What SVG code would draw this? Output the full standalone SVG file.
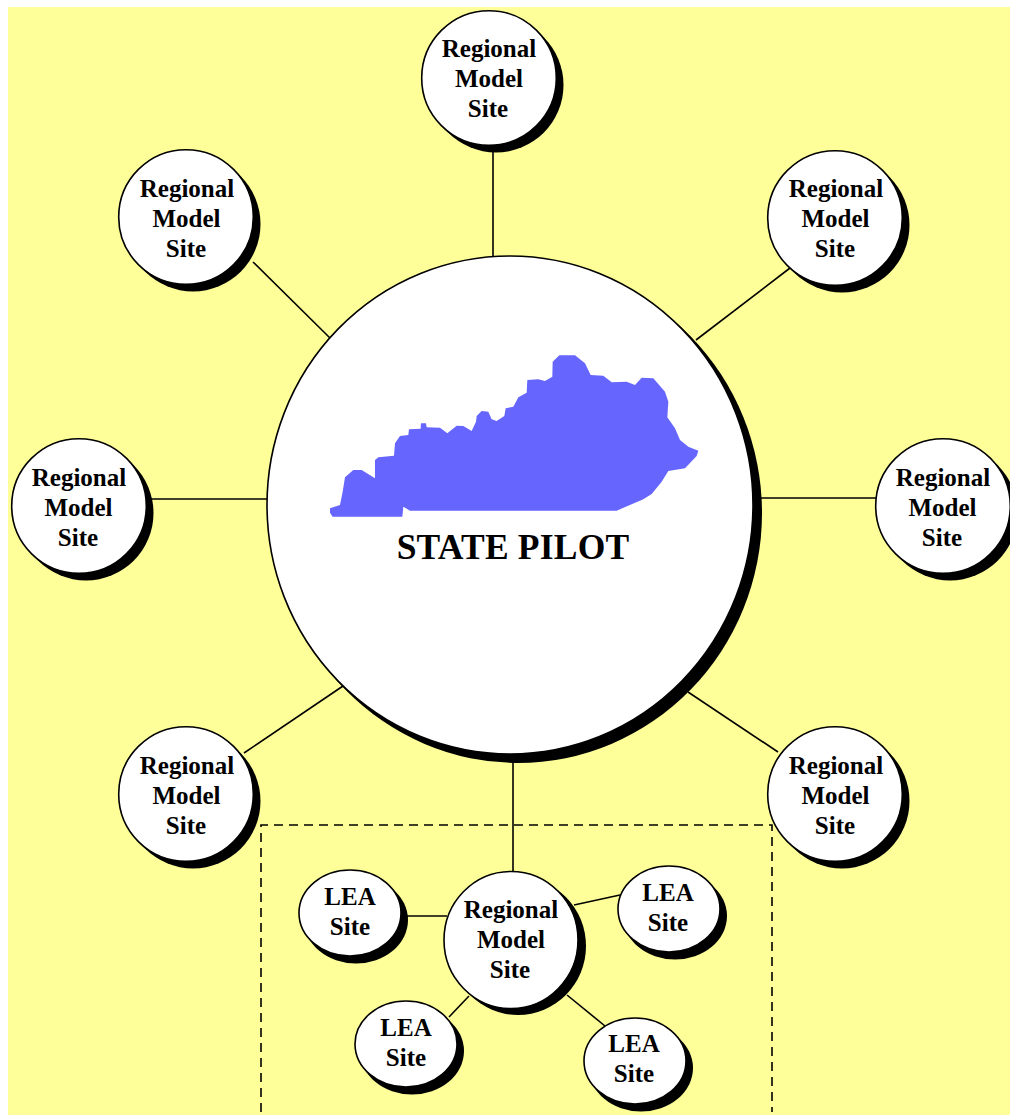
<svg xmlns="http://www.w3.org/2000/svg" width="1010" height="1115" viewBox="0 0 1010 1115">
<style>
.sh{fill:#000}
.fc{fill:#fff;stroke:#000;stroke-width:1.6}
.c{stroke:#000;stroke-width:1.6;fill:none}
.t{font-family:"Liberation Serif","Times New Roman",serif;font-weight:bold;font-size:25px;text-anchor:middle;fill:#000}
</style>
<rect x="0" y="0" width="1010" height="1115" fill="#fff"/>
<rect x="8" y="7" width="1002" height="1108" fill="#ffff99"/>
<g id="connectors">
<line class="c" x1="493" y1="148" x2="493" y2="262"/>
<line class="c" x1="253" y1="262" x2="332" y2="340"/>
<line class="c" x1="790" y1="268" x2="696" y2="340"/>
<line class="c" x1="150" y1="499" x2="270" y2="499"/>
<line class="c" x1="756" y1="498" x2="878" y2="498"/>
<line class="c" x1="244" y1="753" x2="343" y2="686"/>
<line class="c" x1="778" y1="752" x2="688" y2="692"/>
<line class="c" x1="513" y1="760" x2="513" y2="874"/>
<line class="c" x1="405" y1="916" x2="447" y2="916"/>
<line class="c" x1="574" y1="905" x2="620" y2="895"/>
<line class="c" x1="449" y1="1017" x2="469" y2="996"/>
<line class="c" x1="567" y1="995" x2="605" y2="1026"/>
<path d="M261 1112V825H772V1112" fill="none" stroke="#000" stroke-width="1.6" stroke-dasharray="9 6"/>
</g>
<g id="state-pilot">
<ellipse class="sh" cx="518" cy="513" rx="244" ry="250"/>
<ellipse class="fc" cx="510" cy="505" rx="243" ry="249"/>
<polygon transform="translate(320 340) scale(0.33333)" fill="#6666ff" points="30,505 60,495 68,455 75,412 100,390 125,390 165,415 165,360 175,352 222,347 225,310 240,288 265,285 267,268 302,266 303,250 318,250 320,262 360,263 382,280 410,257 430,258 455,273 468,245 470,228 485,213 505,215 515,238 530,243 553,228 557,205 580,200 595,172 620,158 622,120 655,118 675,123 697,110 698,65 718,46 765,46 795,70 812,105 850,107 875,127 920,125 945,135 965,113 1000,115 1035,155 1045,185 1042,232 1065,265 1080,300 1105,320 1135,332 1130,348 1095,385 1045,393 1025,425 995,462 970,478 890,512 270,512 250,500 247,530 38,530 30,518"/>
<text class="t" style="font-size:35.5px;letter-spacing:.2px" x="513" y="559">STATE PILOT</text>
</g>
<g id="site-top"><circle class="sh" cx="496" cy="85" r="67.500"/><circle class="fc" cx="489" cy="78" r="67.3"/><text class="t" x="489" y="57">Regional</text><text class="t" x="489" y="87">Model</text><text class="t" x="488" y="117">Site</text></g>
<g id="site-upper-left"><circle class="sh" cx="193" cy="224" r="67.500"/><circle class="fc" cx="186" cy="217" r="67.3"/><text class="t" x="187" y="197">Regional</text><text class="t" x="186.500" y="227">Model</text><text class="t" x="186" y="257">Site</text></g>
<g id="site-upper-right"><circle class="sh" cx="842" cy="225" r="67.500"/><circle class="fc" cx="835" cy="218" r="67.3"/><text class="t" x="836" y="197">Regional</text><text class="t" x="835.500" y="227">Model</text><text class="t" x="835" y="257">Site</text></g>
<g id="site-left"><circle class="sh" cx="86" cy="513" r="67.500"/><circle class="fc" cx="79" cy="506" r="67.3"/><text class="t" x="79" y="486">Regional</text><text class="t" x="78.500" y="516">Model</text><text class="t" x="78" y="546">Site</text></g>
<g id="site-right"><circle class="sh" cx="950" cy="513" r="67.500"/><circle class="fc" cx="943" cy="506" r="67.3"/><text class="t" x="943" y="486">Regional</text><text class="t" x="942.500" y="516">Model</text><text class="t" x="942" y="546">Site</text></g>
<g id="site-lower-left"><circle class="sh" cx="193" cy="801" r="67.500"/><circle class="fc" cx="186" cy="794" r="67.3"/><text class="t" x="187" y="774">Regional</text><text class="t" x="186.500" y="804">Model</text><text class="t" x="186" y="834">Site</text></g>
<g id="site-lower-right"><circle class="sh" cx="842" cy="801" r="67.500"/><circle class="fc" cx="835" cy="794" r="67.3"/><text class="t" x="836" y="774">Regional</text><text class="t" x="835.500" y="804">Model</text><text class="t" x="835" y="834">Site</text></g>
<g id="site-bottom"><ellipse class="sh" cx="518" cy="946" rx="68" ry="69"/><ellipse class="fc" cx="511" cy="940" rx="67" ry="68.500"/><text class="t" x="511" y="918">Regional</text><text class="t" x="511" y="948">Model</text><text class="t" x="510" y="978">Site</text></g>
<g id="lea-left"><ellipse class="sh" cx="356" cy="920" rx="52" ry="43.500"/><ellipse class="fc" cx="350" cy="913" rx="51" ry="43"/><text class="t" x="350" y="905">LEA</text><text class="t" x="350" y="935">Site</text></g>
<g id="lea-right"><ellipse class="sh" cx="675" cy="916" rx="52" ry="43.500"/><ellipse class="fc" cx="669" cy="909" rx="51" ry="43"/><text class="t" x="668" y="901">LEA</text><text class="t" x="668" y="931">Site</text></g>
<g id="lea-lower-left"><ellipse class="sh" cx="412" cy="1051" rx="52" ry="43.500"/><ellipse class="fc" cx="406" cy="1044" rx="51" ry="43"/><text class="t" x="406" y="1036">LEA</text><text class="t" x="406" y="1066">Site</text></g>
<g id="lea-lower-right"><ellipse class="sh" cx="641" cy="1068" rx="52" ry="43.500"/><ellipse class="fc" cx="635" cy="1061" rx="51" ry="43"/><text class="t" x="634" y="1052">LEA</text><text class="t" x="634" y="1082">Site</text></g>
</svg>
